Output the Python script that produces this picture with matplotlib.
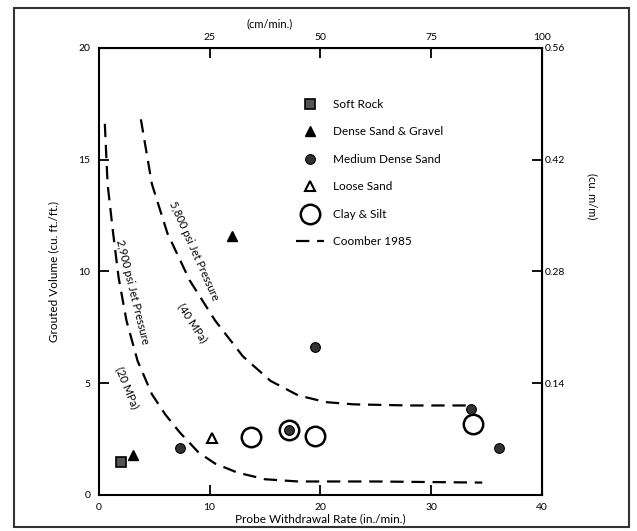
from matplotlib import pyplot as plt
from matplotlib.patches import Rectangle

# data (in./min., cu. ft./ft.)
soft_rock_x = [2.0]
soft_rock_y = [1.45]
dense_sand_x = [3.1, 12.0]
dense_sand_y = [1.8, 11.6]
medium_sand_x = [7.3, 17.2, 19.5, 33.6, 36.1]
medium_sand_y = [2.1, 2.9, 6.6, 3.85, 2.1]
loose_sand_x = [10.2]
loose_sand_y = [2.55]
clay_silt_x = [13.7, 17.2, 19.5, 33.8]
clay_silt_y = [2.6, 2.9, 2.65, 3.15]

# Coomber 1985 curves
c5800_x = [3.8, 4.8, 6.2, 8.2, 10.5, 13.0, 15.5, 18.0, 20.5, 23.0, 28.0, 33.2]
c5800_y = [16.8, 13.9, 11.7, 9.6, 7.8, 6.2, 5.1, 4.45, 4.15, 4.05, 4.0, 4.0]
c2900_x = [0.55, 0.8, 1.3, 1.8, 2.5, 3.5, 4.8, 6.0, 7.3, 9.0, 10.5, 12.5,
           15.0, 18.0, 25.0, 34.6]
c2900_y = [16.6, 13.9, 11.7, 9.7, 7.8, 6.0, 4.5, 3.6, 2.8, 1.9, 1.4, 1.0,
           0.7, 0.6, 0.6, 0.55]

x_ticks = [0, 10, 20, 30, 40]
y_ticks = [0, 5, 10, 15, 20]
cm_ticks = [25, 50, 75, 100]
m_ticks = [0.14, 0.28, 0.42, 0.56]

plt.rcParams["font.family"] = ["Lato", "DejaVu Sans"]

fig = plt.figure(figsize=(6.37, 5.31), dpi=100)
ax = fig.add_axes([0.155, 0.068, 0.696, 0.842])

dash = (0, (6, 3.5))
ax.plot(c5800_x, c5800_y, color="black", lw=1.6, linestyle=dash)
ax.plot(c2900_x, c2900_y, color="black", lw=1.6, linestyle=dash,
        label="Coomber 1985")

ax.plot(soft_rock_x, soft_rock_y, "s", ms=7, mfc="#555555", mec="black",
        mew=1.2, label="Soft Rock")
ax.plot(dense_sand_x, dense_sand_y, "^", ms=7, color="black",
        label="Dense Sand & Gravel")
ax.plot(clay_silt_x, clay_silt_y, "o", ms=14, mfc="none", mec="black",
        mew=1.8, label="Clay & Silt")
ax.plot(medium_sand_x, medium_sand_y, "o", ms=7, mfc="#333333", mec="black",
        mew=0.8, label="Medium Dense Sand")
ax.plot(loose_sand_x, loose_sand_y, "^", ms=7, mfc="white", mec="black",
        mew=1.5, label="Loose Sand")

# legend in the original order
handles, labels = ax.get_legend_handles_labels()
order = ["Soft Rock", "Dense Sand & Gravel", "Medium Dense Sand",
         "Loose Sand", "Clay & Silt", "Coomber 1985"]
hmap = dict(zip(labels, handles))
ax.legend([hmap[k] for k in order], order, loc="upper left",
          bbox_to_anchor=(0.42, 0.91), frameon=False, fontsize=8.5,
          labelspacing=1.4, handlelength=2.4, handletextpad=0.8)

ax.text(3.0, 9.1, "2,900 psi Jet Pressure", rotation=-76, fontsize=8,
        ha="center", va="center", rotation_mode="anchor")
ax.text(2.6, 4.8, "(20 MPa)", rotation=-68, fontsize=8,
        ha="center", va="center", rotation_mode="anchor")
ax.text(8.6, 10.9, "5,800 psi Jet Pressure", rotation=-66, fontsize=8,
        ha="center", va="center", rotation_mode="anchor")
ax.text(8.5, 7.7, "(40 MPa)", rotation=-57, fontsize=8,
        ha="center", va="center", rotation_mode="anchor")

ax.set_xlim(0, 40)
ax.set_ylim(0, 20)
ax.set_xticks(x_ticks)
ax.set_yticks(y_ticks)
ax.tick_params(direction="in", length=7, width=1.3, labelsize=7.5, pad=6)
for s in ax.spines.values():
    s.set_linewidth(1.5)
ax.set_xlabel("Probe Withdrawal Rate (in./min.)", fontsize=8.5, labelpad=1)
ax.set_ylabel("Grouted Volume (cu. ft./ft.)", fontsize=8.5, labelpad=14)

top = ax.secondary_xaxis("top", functions=(lambda x: x * 2.5,
                                           lambda x: x / 2.5))
top.set_xticks(cm_ticks)
top.tick_params(direction="in", length=7, width=1.3, labelsize=7.5, pad=4)

right = ax.secondary_yaxis("right", functions=(lambda y: y * 0.028,
                                               lambda y: y / 0.028))
right.set_yticks(m_ticks)
right.tick_params(direction="in", length=7, width=1.3, labelsize=7.5, pad=2)

fig.text(0.424, 0.955, "(cm/min.)", fontsize=8, ha="center", va="center")
fig.text(0.930, 0.63, "(cu. m/m)", fontsize=8, rotation=-90,
         ha="center", va="center")

fig.patches.append(Rectangle((0.022, 0.008), 0.966, 0.976,
                             transform=fig.transFigure, fill=False,
                             lw=1.5, edgecolor="#333333"))

fig.savefig("out.png", dpi=100)
